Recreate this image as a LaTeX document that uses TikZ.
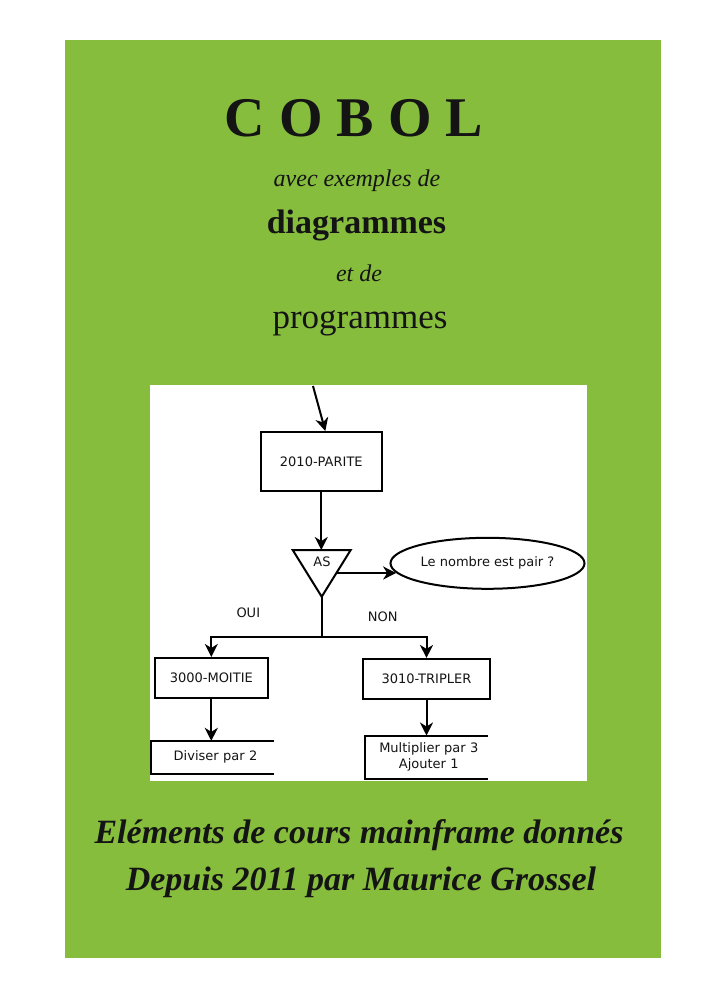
\documentclass[tikz,border=0pt]{standalone}
\usepackage{fontspec}
\setmainfont{Liberation Serif}
\newfontfamily\dejavu{DejaVu Sans}
\usetikzlibrary{arrows.meta,shapes.geometric,calc}
\definecolor{cover}{RGB}{134,189,61}
\definecolor{ink}{RGB}{20,20,20}
\begin{document}
\begin{tikzpicture}[x=1pt,y=-1pt,
  ln/.style={line width=2pt,draw=black},
  arr/.style={ln,-{Stealth[length=13pt,width=13pt,inset=4pt]}},
  sans/.style={font=\dejavu\fontsize{13}{15.7}\selectfont,text=ink},
  proc/.style={sans,draw,line width=2pt,inner sep=0pt},
  store/.style={sans,inner sep=0pt,align=center},
  title/.style={anchor=base,inner sep=0pt,text=ink}
]
\useasboundingbox (0,0) rectangle (705,1000);
\fill[white] (0,0) rectangle (705,1000);
\fill[cover] (65,40) rectangle (661,958);
\fill[white] (150,385) rectangle (587,781);

% titles
\node[title,font=\bfseries\fontsize{56}{60}\selectfont] (cobol) at (354,136.7)
  {C\hspace{14pt}O\hspace{14pt}B\hspace{14pt}O\hspace{14pt}L};
\node[title,font=\itshape\fontsize{24}{28}\selectfont] (avec) at (357,186.7) {avec exemples de};
\node[title,font=\bfseries\fontsize{34}{40}\selectfont] (diag) at (356.5,233.3) {diagrammes};
\node[title,font=\itshape\fontsize{24}{28}\selectfont] (etde) at (359,281.7) {et de};
\node[title,font=\fontsize{35}{40}\selectfont] (prog) at (360,328.3) {programmes};

\node[title,font=\bfseries\itshape\fontsize{34}{40}\selectfont] (foot1) at (359,843.3) {Eléments de cours mainframe donnés};
\node[title,font=\bfseries\itshape\fontsize{34}{40}\selectfont] (foot2) at (361,890) {Depuis 2011 par Maurice Grossel};

% flowchart
\node[proc,minimum width=121.3pt,minimum height=59pt] (parite) at (321.3,461.5) {2010-PARITE};
\coordinate (entry) at (313,386);
\draw[arr] (entry) -- ($(parite.north)+(4,0)$);

\coordinate (tl) at (292.7,550);
\coordinate (tr) at (350.7,550);
\coordinate (tb) at (321.7,596.7);
\draw[ln,line join=miter] (tl) -- (tr) -- (tb) -- cycle;
\node[sans,inner sep=0pt] (as) at (322,561.7) {AS};
\coordinate (ttop) at (321.3,550);
\draw[arr] (parite.south) -- (ttop);

\node[sans,draw,ellipse,line width=2pt,inner sep=0pt,minimum width=194pt,minimum height=51pt] (ell) at (487.5,563.3) {Le nombre est pair ?};
\coordinate (asout) at (337,573);
\draw[arr] (asout) -- (asout -| ell.186);

\coordinate (junc) at (321.7,636.7);
\draw[ln] (tb) -- (junc);
\node[sans,inner sep=0pt] (oui) at (248.3,612.3) {OUI};
\node[sans,inner sep=0pt] (non) at (382.7,616.7) {NON};

\node[proc,minimum width=113.3pt,minimum height=39.7pt] (moitie) at (211.3,677.8) {3000-MOITIE};
\node[proc,minimum width=127.6pt,minimum height=39.7pt] (tripler) at (426.5,678.8) {3010-TRIPLER};
\draw[arr] (junc) -| (moitie.north);
\draw[arr] (junc) -| (tripler.north);

\node[store,minimum width=123pt,minimum height=32.3pt,text width=123pt] (div) at (212.5,757.2) {\hspace*{6pt}Diviser par 2};
\node[store,minimum width=122.7pt,minimum height=42.6pt,text width=122.7pt] (mult) at (426.3,757) {\hspace*{5pt}Multiplier par 3\\\hspace*{5pt}Ajouter 1};
\draw[ln] (div.north east) -- (div.north west) -- (div.south west) -- (div.south east);
\draw[ln] (mult.north east) -- (mult.north west) -- (mult.south west) -- (mult.south east);
\draw[arr] (moitie.south) -- (moitie.south |- div.north);
\draw[arr] (tripler.south) -- (tripler.south |- mult.north);
\end{tikzpicture}
\end{document}
